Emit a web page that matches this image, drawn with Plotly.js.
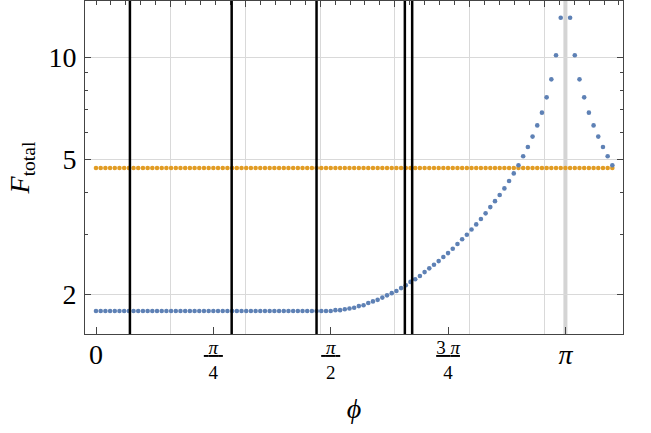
<!DOCTYPE html>
<html>
<head>
<meta charset="utf-8">
<script src="https://cdn.plot.ly/plotly-3.0.1.min.js"></script>
<style>html,body{margin:0;padding:0;background:#fff;}#chart{width:651px;height:433px;}</style>
</head>
<body>
<div id="chart"></div>
<script>
// phi sample points, in units of pi
const phiOverPi = [0.00,0.01,0.02,0.03,0.04,0.05,0.06,0.07,0.08,0.09,
  0.10,0.11,0.12,0.13,0.14,0.15,0.16,0.17,0.18,0.19,
  0.20,0.21,0.22,0.23,0.24,0.25,0.26,0.27,0.28,0.29,
  0.30,0.31,0.32,0.33,0.34,0.35,0.36,0.37,0.38,0.39,
  0.40,0.41,0.42,0.43,0.44,0.45,0.46,0.47,0.48,0.49,
  0.50,0.51,0.52,0.53,0.54,0.55,0.56,0.57,0.58,0.59,
  0.60,0.61,0.62,0.63,0.64,0.65,0.66,0.67,0.68,0.69,
  0.70,0.71,0.72,0.73,0.74,0.75,0.76,0.77,0.78,0.79,
  0.80,0.81,0.82,0.83,0.84,0.85,0.86,0.87,0.88,0.89,
  0.90,0.91,0.92,0.93,0.94,0.95,0.96,0.97,0.98,0.99,
  1.00,1.01,1.02,1.03,1.04,1.05,1.06,1.07,1.08,1.09,1.10];

// blue series (F_total), null where undefined (phi = pi)
const blueF = [1.79,1.79,1.79,1.79,1.79,1.79,1.79,1.79,1.79,1.79,
  1.79,1.79,1.79,1.79,1.79,1.79,1.79,1.79,1.79,1.79,
  1.79,1.79,1.79,1.79,1.79,1.79,1.79,1.79,1.79,1.79,
  1.79,1.79,1.79,1.79,1.79,1.79,1.79,1.79,1.79,1.79,
  1.79,1.79,1.79,1.79,1.79,1.79,1.79,1.79,1.79,1.79,
  1.79,1.80,1.80,1.81,1.82,1.83,1.85,1.86,1.89,1.91,
  1.93,1.96,1.99,2.02,2.05,2.09,2.13,2.18,2.22,2.27,
  2.33,2.39,2.45,2.51,2.58,2.65,2.73,2.82,2.91,3.00,
  3.11,3.22,3.34,3.47,3.62,3.77,3.93,4.11,4.32,4.55,
  4.81,5.11,5.44,5.84,6.30,6.87,7.62,8.61,10.14,13.08,
  null,13.08,10.14,8.61,7.62,6.87,6.30,5.84,5.44,5.11,4.81];

// orange series (constant)
const orangeF = [4.72,4.72,4.72,4.72,4.72,4.72,4.72,4.72,4.72,4.72,
  4.72,4.72,4.72,4.72,4.72,4.72,4.72,4.72,4.72,4.72,
  4.72,4.72,4.72,4.72,4.72,4.72,4.72,4.72,4.72,4.72,
  4.72,4.72,4.72,4.72,4.72,4.72,4.72,4.72,4.72,4.72,
  4.72,4.72,4.72,4.72,4.72,4.72,4.72,4.72,4.72,4.72,
  4.72,4.72,4.72,4.72,4.72,4.72,4.72,4.72,4.72,4.72,
  4.72,4.72,4.72,4.72,4.72,4.72,4.72,4.72,4.72,4.72,
  4.72,4.72,4.72,4.72,4.72,4.72,4.72,4.72,4.72,4.72,
  4.72,4.72,4.72,4.72,4.72,4.72,4.72,4.72,4.72,4.72,
  4.72,4.72,4.72,4.72,4.72,4.72,4.72,4.72,4.72,4.72,
  4.72,4.72,4.72,4.72,4.72,4.72,4.72,4.72,4.72,4.72,4.72];

// vertical marker lines (phi values)
const markerPhis = [0.227, 0.908, 1.476, 2.067, 2.116];
const highlightPhi = [Math.PI];

// tick labels
const bigTickVals = [0, Math.PI];
const bigTickText = ['0', '<i>π</i>'];
const fracTickVals = [Math.PI/4, Math.PI/2, 3*Math.PI/4];
const fracTickText = ['<u> <i>π</i> </u><br>4', '<u> <i>π</i> </u><br>2', '<u>3 <i>π</i></u><br>4'];
const yTickVals = [2, 5, 10];
const yTickText = ['2', '5', '10'];
const yMinorVals = [3, 4, 6, 7, 8, 9];
const gridPhis = [0.5, 1.0, 1.5, 2.0, 2.5, 3.0];

const x = phiOverPi.map(v => v * Math.PI);
const FONT = 'Liberation Serif, Times New Roman, serif';
const xRange = [-0.0736, 3.527];
const yRange = [0.185, 1.1658];

const topMinor = [];
for (let i = 0; i <= 35; i++) {
  if (i % 5 !== 0 || i === 0 || i === 35) topMinor.push(i / 10);
}

const traces = [
  {x: [], y: [], type: 'scatter', mode: 'markers', xaxis: 'x2', yaxis: 'y', hoverinfo: 'skip'},
  {x: [], y: [], type: 'scatter', mode: 'markers', xaxis: 'x3', yaxis: 'y', hoverinfo: 'skip'},
  {x: x, y: orangeF, type: 'scatter', mode: 'markers', xaxis: 'x', yaxis: 'y',
   marker: {color: '#e19c24', size: 4.6}, hoverinfo: 'skip'},
  {x: x, y: blueF, type: 'scatter', mode: 'markers', xaxis: 'x', yaxis: 'y',
   marker: {color: '#5e81b5', size: 4.6}, hoverinfo: 'skip'}
];

const shapes = [];
highlightPhi.forEach(p => shapes.push({type: 'line', xref: 'x', yref: 'paper', x0: p, x1: p, y0: 0, y1: 1,
  line: {color: '#d4d4d4', width: 4}, layer: 'below'}));
markerPhis.forEach(p => shapes.push({type: 'line', xref: 'x', yref: 'paper', x0: p, x1: p, y0: 0, y1: 1,
  line: {color: '#000', width: 2.5}, layer: 'above'}));

const layout = {
  width: 651, height: 433,
  margin: {l: 85, r: 28, t: 1, b: 99, pad: 0},
  paper_bgcolor: '#fff', plot_bgcolor: '#fff',
  showlegend: false,
  font: {family: FONT, color: '#000'},
  xaxis: {
    range: xRange, showgrid: false, zeroline: false,
    showline: true, linecolor: '#444', linewidth: 1,
    tickmode: 'array', tickvals: bigTickVals, ticktext: bigTickText,
    ticks: 'inside', ticklen: 7, tickcolor: '#444',
    tickfont: {family: FONT, size: 28, color: '#000'},
    ticklabelstandoff: -5,
    title: {text: '<i>ϕ</i>', font: {family: FONT, size: 28, color: '#000'}, standoff: 29}
  },
  xaxis3: {
    overlaying: 'x', side: 'bottom', anchor: 'y',
    range: xRange, showgrid: false, zeroline: false, showline: false,
    tickmode: 'array', tickvals: fracTickVals, ticktext: fracTickText,
    ticks: 'inside', ticklen: 7, tickcolor: '#444',
    tickfont: {family: FONT, size: 19, color: '#000'}
  },
  xaxis2: {
    overlaying: 'x', side: 'top', anchor: 'y',
    range: xRange, zeroline: false,
    showline: true, linecolor: '#444', linewidth: 1,
    tickmode: 'array', tickvals: gridPhis, showticklabels: false,
    ticks: 'inside', ticklen: 6, tickcolor: '#444',
    showgrid: true, gridcolor: '#d9d9d9', gridwidth: 1,
    minor: {tickmode: 'array', tickvals: topMinor, ticks: 'inside', ticklen: 4, tickcolor: '#444', showgrid: false}
  },
  yaxis: {
    type: 'log', range: yRange, zeroline: false,
    showline: true, linecolor: '#444', linewidth: 1, mirror: 'ticks',
    tickmode: 'array', tickvals: yTickVals, ticktext: yTickText,
    ticks: 'inside', ticklen: 6, tickcolor: '#444',
    tickfont: {family: FONT, size: 28, color: '#000'},
    ticklabelstandoff: 2,
    showgrid: true, gridcolor: '#d9d9d9', gridwidth: 1,
    minor: {tickmode: 'array', tickvals: yMinorVals, ticks: 'inside', ticklen: 3, tickcolor: '#444', showgrid: false},
    title: {text: '<i>F</i><sub>total</sub>', font: {family: FONT, size: 28, color: '#000'}, standoff: 10}
  },
  shapes: shapes
};

Plotly.newPlot('chart', traces, layout, {staticPlot: true, displayModeBar: false});
</script>
</body>
</html>
